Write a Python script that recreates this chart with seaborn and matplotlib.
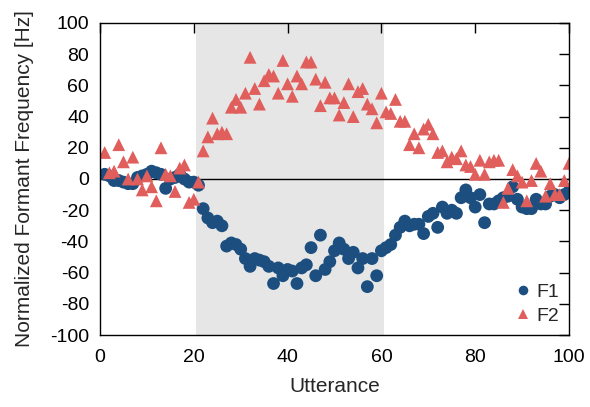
import numpy as np
import pandas as pd
import matplotlib
matplotlib.use("Agg")
import matplotlib.pyplot as plt
import seaborn as sns

utterance = list(range(1, 101))

f1 = [3, 2, -1, -1, -2, -3, -3, 1, 2, 3, 5, 4, 3, -6, 0, 1, 3, 0, -2, -2, -4,
      -19, -25, -28, -27, -30, -43, -41, -42, -45, -51, -56, -51, -52, -53, -56, -67, -57, -62, -58, -59,
      -67, -57, -55, -44, -62, -36, -58, -53, -46, -41, -45, -51, -47, -57, -51, -69, -51, -62, -46, -44,
      -42, -36, -31, -27, -30, -29, -29, -35, -24, -22, -31, -18, -22, -20, -22, -12, -7, -12, -18, -10,
      -28, -16, -16, -14, -12, -11, -5, -13, -18, -19, -19, -13, -16, -16, -11, -10, -12, -10, -8]

f2 = [17, 4, 5, 22, 11, 0, 14, 0, -7, 2, -5, -14, 20, 3, 2, -8, 7, 9, -15, -13, -2,
      18, 27, 39, 29, 30, 29, 46, 51, 46, 55, 78, 58, 48, 63, 67, 66, 55, 76, 61, 53,
      66, 61, 75, 75, 64, 47, 62, 52, 52, 41, 49, 61, 40, 56, 58, 48, 45, 36, 55, 43,
      42, 51, 37, 37, 22, 29, 20, 32, 35, 29, 17, 18, 11, 14, 13, 18, 9, 8, 3, 12,
      3, 11, 12, 12, -15, -6, 6, 2, -2, -14, -1, 10, 5, -11, -3, -10, -10, -1, 10]

series_names = ["F1", "F2"]
shade_range = (20.5, 60.5)

df = pd.DataFrame({
    "Utterance": utterance * 2,
    "value": f1 + f2,
    "series": [series_names[0]] * len(f1) + [series_names[1]] * len(f2),
})

sns.set_style("white")
plt.rcParams["font.family"] = ["Liberation Sans", "DejaVu Sans"]
plt.rcParams["axes.unicode_minus"] = False

fig = plt.figure(figsize=(5.9, 4.07), dpi=100)
ax = fig.add_axes([0.1695, 0.1769, 0.7949, 0.7666])

ax.axvspan(shade_range[0], shade_range[1], color="#e6e6e6", zorder=0, lw=0)
ax.axhline(0, color="black", lw=1.0, zorder=1)

sns.scatterplot(data=df, x="Utterance", y="value", hue="series", style="series",
                palette={"F1": "#1c4f80", "F2": "#e05e5c"},
                markers={"F1": "o", "F2": "^"}, s=85, linewidth=0,
                ax=ax, zorder=2)

ax.set_xlim(0, 100)
ax.set_ylim(-100, 100)
ax.set_xticks(np.arange(0, 101, 20))
ax.set_yticks(np.arange(-100, 101, 20))
ax.set_xlabel("Utterance", fontsize=15, labelpad=8)
ax.set_ylabel("Normalized Formant Frequency [Hz]", fontsize=15, labelpad=11)
ax.tick_params(direction="in", length=7, width=1, top=True, right=True,
               labelsize=14, colors="black")
ax.tick_params(axis="x", pad=10)
ax.tick_params(axis="y", pad=8)
for sp in ax.spines.values():
    sp.set_color("black")
    sp.set_linewidth(1.0)
    sp.set_visible(True)

leg = ax.legend(loc="lower right", frameon=False, fontsize=14, handletextpad=0.1,
                borderaxespad=0.0, labelspacing=0.35, markerscale=0.75,
                handlelength=1.2, borderpad=0.5)

fig.savefig("out.png", dpi=100)
